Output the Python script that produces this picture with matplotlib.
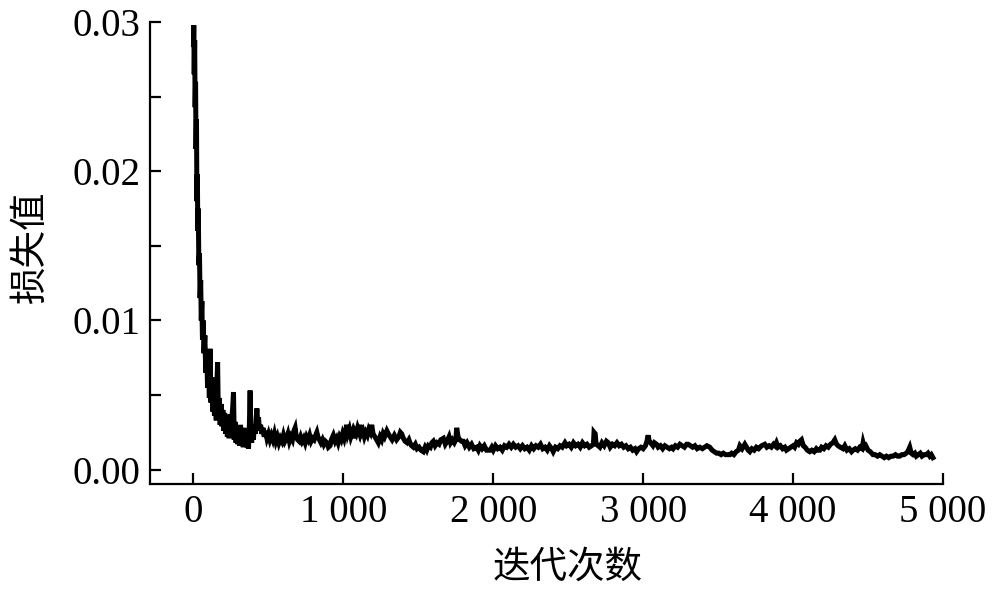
import numpy as np
import matplotlib
matplotlib.use("Agg")
import matplotlib.pyplot as plt
from matplotlib.ticker import FixedLocator

# ---- data ----
iterations = [
    0, 2, 5, 8, 11, 14, 17, 20, 23, 26, 29, 32, 36, 40, 44, 48, 52, 56, 60, 65,
    70, 76, 82, 88, 94, 100, 106, 111, 116, 122, 128, 134, 140, 146, 152, 157, 161, 166, 172, 178,
    184, 190, 196, 202, 208, 214, 220, 226, 232, 238, 244, 250, 256, 262, 267, 272, 278, 284, 290, 296,
    302, 308, 314, 320, 326, 332, 338, 344, 350, 356, 362, 367, 372, 378, 382, 388, 394, 400, 406, 412,
    418, 423, 428, 434, 440, 448, 456, 464, 472, 480, 490, 500, 510, 520, 530, 540, 550, 560, 570, 580,
    590, 600, 610, 620, 630, 640, 650, 660, 670, 678, 686, 695, 705, 715, 725, 735, 745, 755, 765, 775,
    785, 795, 805, 815, 823, 830, 840, 850, 860, 870, 880, 890, 900, 911, 920, 933, 945, 955, 965, 975,
    985, 995, 1005, 1015, 1022, 1030, 1040, 1050, 1060, 1067, 1075, 1085, 1095, 1105, 1111, 1120, 1130, 1140, 1150, 1160,
    1170, 1180, 1189, 1198, 1210, 1222, 1233, 1245, 1255, 1265, 1275, 1290, 1300, 1312, 1325, 1340, 1355, 1370, 1380, 1389,
    1400, 1412, 1425, 1437, 1444, 1455, 1467, 1480, 1492, 1505, 1518, 1533, 1545, 1556, 1567, 1580, 1590, 1600, 1612, 1625,
    1638, 1650, 1667, 1680, 1692, 1705, 1715, 1727, 1740, 1750, 1756, 1765, 1775, 1788, 1800, 1812, 1825, 1840, 1855, 1870,
    1889, 1900, 1911, 1925, 1940, 1955, 1978, 1990, 2000, 2015, 2030, 2045, 2060, 2075, 2090, 2105, 2120, 2134, 2150, 2165,
    2180, 2195, 2210, 2225, 2240, 2255, 2270, 2285, 2300, 2315, 2330, 2345, 2360, 2375, 2390, 2400, 2415, 2430, 2445, 2460,
    2478, 2490, 2505, 2520, 2535, 2550, 2565, 2580, 2595, 2610, 2625, 2640, 2655, 2668, 2672, 2680, 2686, 2700, 2711, 2725,
    2740, 2755, 2767, 2780, 2795, 2810, 2825, 2840, 2855, 2870, 2885, 2900, 2915, 2930, 2945, 2956, 2970, 2985, 3000, 3015,
    3025, 3033, 3040, 3050, 3065, 3075, 3089, 3100, 3115, 3130, 3145, 3160, 3175, 3190, 3200, 3215, 3230, 3245, 3260, 3275,
    3290, 3300, 3315, 3330, 3345, 3360, 3378, 3395, 3410, 3425, 3444, 3460, 3475, 3489, 3505, 3520, 3535, 3550, 3565, 3578,
    3590, 3605, 3620, 3635, 3645, 3660, 3678, 3690, 3700, 3711, 3725, 3740, 3755, 3770, 3790, 3811, 3825, 3840, 3855, 3870,
    3880, 3889, 3900, 3915, 3930, 3945, 3956, 3970, 3985, 4000, 4010, 4023, 4035, 4045, 4056, 4068, 4080, 4095, 4111, 4125,
    4140, 4155, 4165, 4178, 4190, 4205, 4220, 4235, 4250, 4265, 4278, 4290, 4300, 4315, 4333, 4345, 4360, 4375, 4390, 4400,
    4415, 4430, 4445, 4460, 4467, 4475, 4485, 4500, 4515, 4533, 4548, 4563, 4578, 4593, 4608, 4623, 4638, 4653, 4668, 4683,
    4697, 4711, 4725, 4740, 4755, 4765, 4778, 4788, 4800, 4812, 4822, 4835, 4848, 4860, 4875, 4889, 4900, 4912, 4922, 4933,
]

# loss values in units of 1e-3
loss_milli = [
    28.5, 29.8, 26.5, 28.8, 24.3, 26.0, 21.5, 23.5, 18.0, 19.8, 16.0, 17.5, 13.7, 14.5, 11.5, 12.7, 10.0, 11.3, 8.7, 10.0,
    7.8, 9.0, 6.5, 8.0, 5.5, 7.0, 4.8, 8.1, 4.5, 6.2, 3.9, 5.5, 3.6, 5.0, 3.3, 6.0, 7.2, 3.5, 4.8, 3.0,
    4.4, 2.9, 4.0, 2.6, 3.8, 2.4, 3.6, 2.2, 3.4, 2.1, 3.7, 2.3, 3.5, 4.2, 5.2, 2.0, 3.2, 1.8, 2.9, 1.7,
    2.7, 1.6, 3.0, 1.8, 2.6, 1.5, 2.8, 1.6, 2.4, 1.5, 1.9, 1.4, 2.6, 5.3, 2.8, 1.8, 2.7, 2.0, 3.0, 2.4,
    3.4, 4.1, 3.2, 3.5, 2.6, 3.0, 2.4, 2.8, 2.2, 2.6, 2.1, 2.4, 2.0, 2.3, 2.0, 2.4, 1.9, 2.2, 1.8, 2.1,
    1.9, 2.3, 1.9, 2.1, 2.4, 1.9, 2.2, 2.0, 2.6, 2.8, 2.2, 2.0, 1.9, 2.2, 1.9, 2.1, 1.8, 2.2, 2.0, 2.3,
    1.9, 2.1, 2.0, 2.3, 2.5, 2.2, 2.0, 1.8, 2.0, 1.7, 1.9, 1.8, 1.5, 1.6, 2.0, 2.3, 1.9, 2.1, 1.8, 2.2,
    2.0, 2.4, 2.1, 2.6, 3.0, 2.4, 2.7, 2.2, 2.5, 2.1, 2.6, 2.4, 2.8, 2.5, 3.0, 2.4, 2.6, 2.2, 2.5, 2.3,
    2.7, 2.5, 3.0, 2.4, 2.2, 2.0, 1.8, 2.2, 2.0, 2.4, 2.2, 2.6, 2.4, 2.2, 2.0, 2.3, 2.0, 2.2, 2.5, 2.4,
    2.1, 1.9, 1.8, 2.0, 1.8, 1.6, 1.5, 1.7, 1.4, 1.5, 1.3, 1.2, 1.5, 1.3, 1.6, 1.5, 1.8, 1.9, 1.6, 1.8,
    1.7, 2.0, 2.1, 1.7, 1.9, 2.2, 1.8, 2.0, 1.8, 2.0, 2.8, 2.2, 2.0, 1.9, 1.9, 1.6, 1.8, 1.5, 1.7, 1.4,
    1.5, 1.3, 1.6, 1.4, 1.6, 1.3, 1.3, 1.5, 1.3, 1.6, 1.4, 1.5, 1.3, 1.6, 1.5, 1.7, 1.5, 1.7, 1.5, 1.6,
    1.4, 1.6, 1.4, 1.5, 1.3, 1.6, 1.4, 1.6, 1.5, 1.7, 1.4, 1.5, 1.3, 1.6, 1.4, 1.2, 1.5, 1.4, 1.6, 1.5,
    1.8, 1.6, 1.7, 1.5, 1.8, 1.6, 1.7, 1.5, 1.8, 1.6, 1.7, 1.5, 1.6, 1.7, 2.5, 2.4, 1.7, 1.6, 1.5, 1.8,
    1.6, 1.9, 1.8, 1.5, 1.7, 1.6, 1.8, 1.6, 1.7, 1.5, 1.6, 1.4, 1.5, 1.3, 1.4, 1.2, 1.4, 1.5, 1.4, 1.6,
    1.9, 2.3, 1.9, 1.8, 1.6, 1.8, 1.7, 1.5, 1.6, 1.4, 1.6, 1.5, 1.4, 1.5, 1.4, 1.6, 1.5, 1.7, 1.6, 1.5,
    1.7, 1.7, 1.6, 1.5, 1.6, 1.4, 1.5, 1.4, 1.5, 1.6, 1.5, 1.3, 1.2, 1.1, 1.1, 1.0, 1.1, 1.0, 1.0, 1.0,
    1.1, 1.0, 1.2, 1.3, 1.6, 1.4, 1.7, 1.5, 1.3, 1.2, 1.4, 1.3, 1.5, 1.4, 1.6, 1.7, 1.5, 1.6, 1.5, 1.7,
    1.6, 1.8, 1.5, 1.6, 1.4, 1.5, 1.3, 1.4, 1.5, 1.6, 1.5, 1.8, 1.7, 1.9, 2.0, 1.6, 1.5, 1.3, 1.2, 1.3,
    1.2, 1.4, 1.3, 1.3, 1.5, 1.4, 1.6, 1.5, 1.7, 1.8, 2.0, 1.7, 1.6, 1.5, 1.4, 1.6, 1.3, 1.4, 1.2, 1.3,
    1.4, 1.3, 1.5, 1.4, 1.8, 1.5, 1.6, 1.3, 1.2, 1.0, 1.0, 0.9, 1.0, 0.9, 0.8, 0.9, 0.8, 0.9, 0.9, 1.0,
    0.9, 0.9, 1.0, 1.0, 1.1, 1.2, 1.5, 1.1, 1.0, 1.1, 0.9, 1.0, 1.1, 0.9, 1.0, 1.0, 1.1, 0.9, 1.0, 0.8,
]

x_ticks = [0, 1000, 2000, 3000, 4000, 5000]
x_tick_labels = ["0", "1 000", "2 000", "3 000", "4 000", "5 000"]
y_ticks = [0.00, 0.01, 0.02, 0.03]
y_tick_labels = ["0.00", "0.01", "0.02", "0.03"]
x_label = "迭代次数"
y_label = "损失值"

loss = np.array(loss_milli) / 1000.0

serif = ["Liberation Serif", "DejaVu Serif"]
cjk = ["Noto Sans CJK SC", "DejaVu Sans"]

fig = plt.figure(figsize=(10, 6), dpi=100)
ax = fig.add_axes([0.150, 0.193, 0.793, 0.770])

ax.plot(iterations, loss, color="black", linewidth=3.6, solid_joinstyle="miter")

ax.set_xlim(-290, 5000)
ax.set_ylim(-0.00098, 0.03)

for s in ["top", "right"]:
    ax.spines[s].set_visible(False)
for s in ["left", "bottom"]:
    ax.spines[s].set_linewidth(1.6)

ax.set_xticks(x_ticks)
ax.set_xticklabels(x_tick_labels, fontfamily=serif, fontsize=28)
ax.set_yticks(y_ticks)
ax.set_yticklabels(y_tick_labels, fontfamily=serif, fontsize=28)
ax.yaxis.set_minor_locator(FixedLocator([0.005, 0.015, 0.025]))

ax.tick_params(axis="both", which="both", direction="in", length=8, width=1.6, pad=7, colors="black")

ax.set_xlabel(x_label, family=cjk, fontsize=27)
ax.set_ylabel(y_label, family=cjk, fontsize=27)
ax.xaxis.set_label_coords(0.527, -0.138)
ax.yaxis.set_label_coords(-0.127, 0.513)

fig.savefig("out.png", dpi=100)
